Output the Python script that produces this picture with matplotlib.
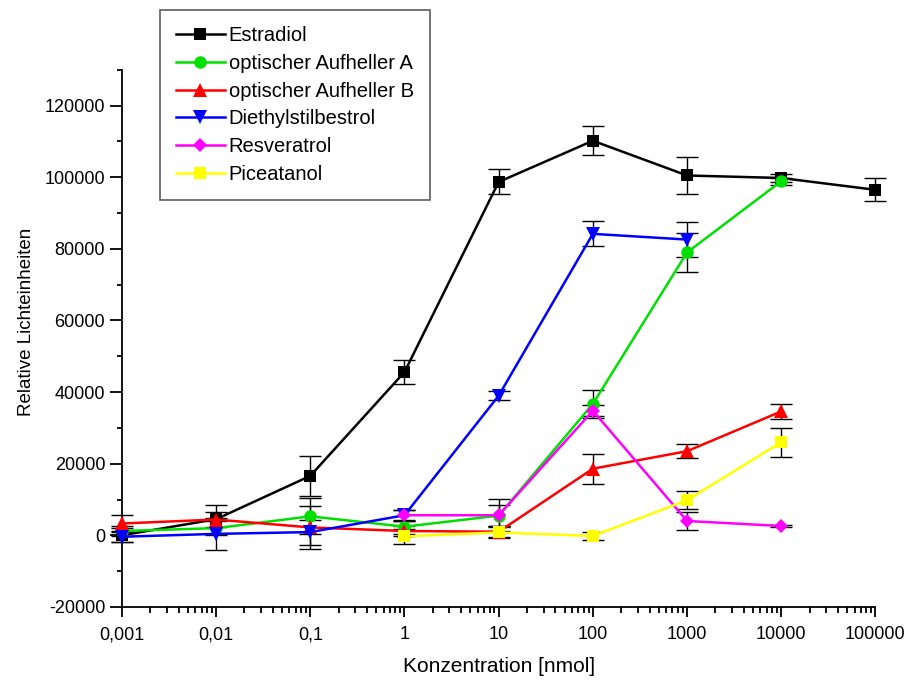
import matplotlib
matplotlib.use('Agg')
import matplotlib.pyplot as plt
from matplotlib.ticker import FixedLocator, FixedFormatter, LogLocator, NullFormatter, MultipleLocator

plt.rcParams['font.family'] = ['Liberation Sans', 'DejaVu Sans']

# concentrations [nmol]
conc = [0.001, 0.01, 0.1, 1, 10, 100, 1000, 10000, 100000]
tick_labels = ['0,001', '0,01', '0,1', '1', '10', '100', '1000', '10000', '100000']

estradiol = [0, 4500, 16600, 45600, 98700, 110200, 100500, 99800, 96500]
estradiol_err = [2000, 4000, 5500, 3400, 3500, 4000, 5300, 1000, 3200]

aufheller_a = [1200, 2000, 5300, 2400, 5500, 36700, 79000, 98900]
aufheller_a_err = [1500, 2000, 5000, 2000, 3000, 4000, 5500, 1000]

aufheller_b = [3300, 4400, 2200, 1200, 1000, 18600, 23500, 34600]
aufheller_b_err = [2500, 2000, 6000, 1500, 1500, 4200, 2000, 2000]

diethylstilbestrol = [-400, 400, 900, 5600, 39000, 84200, 82600]
diethylstilbestrol_err = [1500, 4500, 3500, 1500, 1200, 3500, 4800]

resveratrol_conc = [1, 10, 100, 1000, 10000]
resveratrol = [5600, 5600, 34800, 4000, 2600]
resveratrol_err = [1500, 4500, 1500, 2500, 300]

piceatanol_conc = [1, 10, 100, 1000, 10000]
piceatanol = [-300, 800, -200, 9800, 26000]
piceatanol_err = [2000, 1500, 1000, 2500, 4000]

series = [
    ('Estradiol', conc, estradiol, estradiol_err, 'black', 's', 8),
    ('optischer Aufheller A', conc[:8], aufheller_a, aufheller_a_err, '#00e000', 'o', 9),
    ('optischer Aufheller B', conc[:8], aufheller_b, aufheller_b_err, 'red', '^', 10),
    ('Diethylstilbestrol', conc[:7], diethylstilbestrol, diethylstilbestrol_err, 'blue', 'v', 10),
    ('Resveratrol', resveratrol_conc, resveratrol, resveratrol_err, 'magenta', 'D', 7),
    ('Piceatanol', piceatanol_conc, piceatanol, piceatanol_err, 'yellow', 's', 8),
]

fig = plt.figure(figsize=(9.1, 6.85), dpi=100)
ax = fig.add_axes([0.134, 0.114, 0.828, 0.784])

handles = []
for i, (name, x, y, err, col, mk, ms) in enumerate(series):
    eb = ax.errorbar(x, y, yerr=err, fmt='none', ecolor='black', elinewidth=1,
                     capsize=8, capthick=1, zorder=2 + i * 0.1)
    for art in eb.lines[1] + eb.lines[2]:
        art.set_clip_on(False)
    h, = ax.plot(x, y, color=col, marker=mk, markersize=ms, linewidth=1.8,
                 markeredgewidth=0, label=name, zorder=3 + i * 0.1, clip_on=False)
    handles.append(h)

ax.set_xscale('log')
ax.set_xlim(0.001, 100000)
ax.set_ylim(-20000, 130000)
ax.xaxis.set_major_locator(FixedLocator(conc))
ax.xaxis.set_major_formatter(FixedFormatter(tick_labels))
ax.xaxis.set_minor_locator(LogLocator(base=10, subs=range(2, 10), numticks=20))
ax.xaxis.set_minor_formatter(NullFormatter())
ax.yaxis.set_major_locator(MultipleLocator(20000))
ax.yaxis.set_minor_locator(MultipleLocator(10000))
ax.yaxis.set_major_formatter(plt.FuncFormatter(lambda v, p: f'{int(v)}'))

for s in ['top', 'right']:
    ax.spines[s].set_visible(False)
for s in ['left', 'bottom']:
    ax.spines[s].set_linewidth(1.3)
ax.tick_params(which='both', direction='out', width=1.3, labelsize=13)
ax.tick_params(axis='x', which='major', length=7, pad=7)
ax.tick_params(axis='x', which='minor', length=4.3)
ax.tick_params(axis='y', which='major', length=8.6, pad=3.5)
ax.tick_params(axis='y', which='minor', length=3.6)

ax.set_xlabel('Konzentration [nmol]', fontsize=15, labelpad=10)
ax.set_ylabel('Relative Lichteinheiten', fontsize=13.5)
ax.yaxis.set_label_coords(-0.116, 0.53)

leg = fig.legend(handles=handles, loc='upper left', bbox_to_anchor=(0.176, 0.985),
                 borderaxespad=0, fontsize=14.5, frameon=True, fancybox=False,
                 handlelength=2.4, handletextpad=0.2, borderpad=0.8,
                 labelspacing=0.43)
leg.get_frame().set_edgecolor('#333333')
leg.get_frame().set_linewidth(1.2)

fig.savefig('out.png', dpi=100)
